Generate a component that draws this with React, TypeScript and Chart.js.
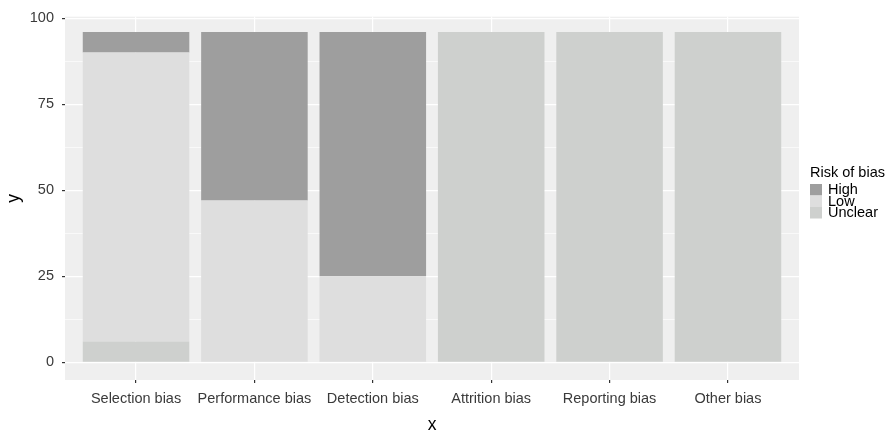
import React, { useEffect, useRef } from "react";
import { Chart, registerables } from "chart.js";

Chart.register(...registerables);

const categories = [
  "Selection bias",
  "Performance bias",
  "Detection bias",
  "Attrition bias",
  "Reporting bias",
  "Other bias",
];
const riskLevels = ["High", "Low", "Unclear"];
const highValues = [6, 49, 71, 0, 0, 0];
const lowValues = [84, 47, 25, 0, 0, 0];
const unclearValues = [6, 0, 0, 96, 96, 96];
const yMajorTicks = [0, 25, 50, 75, 100];
const yMinorTicks = [12.5, 37.5, 62.5, 87.5];

const riskColors: Record<string, string> = {
  High: "#9E9E9E",
  Low: "#DEDEDE",
  Unclear: "#CED0CE",
};

const FONT = "'Liberation Sans', Arial, Helvetica, sans-serif";
const TICK_COLOR = "#3A3A3A";

export default function App() {
  const canvasRef = useRef<HTMLCanvasElement | null>(null);

  useEffect(() => {
    const canvas = canvasRef.current;
    if (!canvas) return;

    const toPoints = (vals: number[]) => vals.map((v, i) => ({ x: i + 1, y: v }));

    const panelBg = {
      id: "panelBg",
      beforeDraw(chart: any) {
        const { ctx, chartArea } = chart;
        ctx.save();
        ctx.fillStyle = "#EFEFEF";
        ctx.fillRect(chartArea.left, chartArea.top, chartArea.right - chartArea.left, chartArea.bottom - chartArea.top);
        ctx.restore();
      },
    };

    const legendPlugin = {
      id: "ggLegend",
      afterDraw(chart: any) {
        const { ctx } = chart;
        ctx.save();
        const x0 = 810;
        ctx.fillStyle = "#000000";
        ctx.font = `14.5px ${FONT}`;
        ctx.textBaseline = "middle";
        ctx.textAlign = "left";
        ctx.fillText("Risk of bias", x0, 173);
        const keyTop = 184;
        const keyH = 11.5;
        riskLevels.forEach((lvl, i) => {
          ctx.fillStyle = riskColors[lvl];
          ctx.fillRect(x0, keyTop + i * keyH, 12, keyH);
          ctx.fillStyle = "#000000";
          ctx.font = `14.5px ${FONT}`;
          ctx.fillText(lvl, 828, keyTop + i * keyH + keyH / 2 + 0.5);
        });
        ctx.restore();
      },
    };

    const chart = new Chart(canvas, {
      type: "bar",
      data: {
        datasets: [
          { label: "Unclear", data: toPoints(unclearValues), backgroundColor: riskColors.Unclear },
          { label: "Low", data: toPoints(lowValues), backgroundColor: riskColors.Low },
          { label: "High", data: toPoints(highValues), backgroundColor: riskColors.High },
        ],
      },
      plugins: [panelBg, legendPlugin],
      options: {
        responsive: false,
        animation: false,
        devicePixelRatio: 1,
        layout: { padding: { top: 12, right: 92, left: 0, bottom: 0 } },
        datasets: {
          bar: { categoryPercentage: 1, barPercentage: 0.9, borderWidth: 0 },
        },
        plugins: { legend: { display: false }, tooltip: { enabled: false } },
        scales: {
          x: {
            type: "linear",
            stacked: true,
            offset: false,
            min: 0.4,
            max: categories.length + 0.6,
            afterBuildTicks: (axis: any) => {
              axis.ticks = categories.map((_, i) => ({ value: i + 1 }));
            },
            afterFit: (scale: any) => {
              scale.height = 53;
            },
            ticks: {
              autoSkip: false,
              maxRotation: 0,
              padding: 7,
              color: TICK_COLOR,
              font: { family: FONT, size: 14.5 },
              callback: (value: any) => categories[Math.round(Number(value)) - 1] ?? "",
            },
            grid: {
              offset: false,
              color: "#FFFFFF",
              lineWidth: 1.2,
              tickColor: "#333333",
              tickLength: 3,
              drawTicks: true,
            },
            border: { display: false },
            title: {
              display: true,
              text: "x",
              color: "#000000",
              font: { family: FONT, size: 17.5 },
              padding: { top: 0, bottom: -3 },
            },
          },
          y: {
            type: "linear",
            stacked: true,
            min: -5.16,
            max: 100.43,
            afterBuildTicks: (axis: any) => {
              axis.ticks = [...yMajorTicks, ...yMinorTicks]
                .sort((a, b) => a - b)
                .map((v) => ({ value: v }));
            },
            afterFit: (scale: any) => {
              scale.width = 65;
            },
            ticks: {
              padding: 8,
              color: TICK_COLOR,
              font: { family: FONT, size: 14.5 },
              callback: (value: any) => (yMajorTicks.includes(Number(value)) ? String(value) : ""),
            },
            grid: {
              color: "#FFFFFF",
              lineWidth: (ctx: any) => (yMajorTicks.includes(ctx.tick?.value) ? 1.2 : 0.6),
              tickColor: (ctx: any) => (yMajorTicks.includes(ctx.tick?.value) ? "#333333" : "rgba(0,0,0,0)"),
              tickLength: 3,
              drawTicks: true,
            },
            border: { display: false },
            title: {
              display: true,
              text: "y",
              color: "#000000",
              font: { family: FONT, size: 17.5 },
              padding: { top: 4, bottom: 4 },
            },
          },
        },
      },
    } as any);

    return () => {
      chart.destroy();
    };
  }, []);

  return (
    <div style={{ position: "absolute", left: 0, top: 0, width: 891, height: 433, background: "#FFFFFF" }}>
      <canvas ref={canvasRef} width={891} height={433} />
    </div>
  );
}
